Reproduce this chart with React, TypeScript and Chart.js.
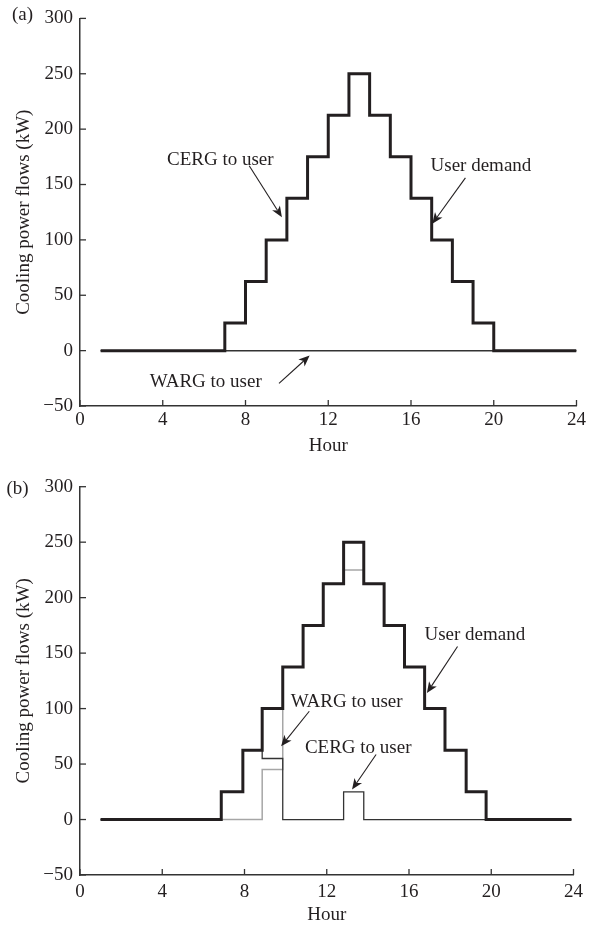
import React, { useEffect, useRef } from "react";
import { Chart, registerables } from "chart.js";

Chart.register(...registerables);

// ---------- data ----------
const hoursA = [1, 2, 3, 4, 5, 6, 7, 8, 9, 10, 11, 12, 13, 14, 15, 16, 17, 18, 19, 20, 21, 22, 23, 24];
const demandA = [0, 0, 0, 0, 0, 0, 25, 62.5, 100, 137.5, 175, 212.5, 250, 212.5, 175, 137.5, 100, 62.5, 25, 0, 0, 0, 0, 0];
const cergA = [0, 0, 0, 0, 0, 0, 25, 62.5, 100, 137.5, 175, 212.5, 250, 212.5, 175, 137.5, 100, 62.5, 25, 0, 0, 0, 0, 0];
const wargA = [0, 0, 0, 0, 0, 0, 0, 0, 0, 0, 0, 0, 0, 0, 0, 0, 0, 0, 0, 0, 0, 0, 0, 0];

const hoursB = [1, 2, 3, 4, 5, 6, 6.87, 7.92, 8.86, 9.86, 10.85, 11.83, 12.82, 13.8, 14.79, 15.78, 16.76, 17.75, 18.78, 19.75, 21, 22, 23, 23.9];
const demandB = [0, 0, 0, 0, 0, 0, 25, 62.5, 100, 137.5, 175, 212.5, 250, 212.5, 175, 137.5, 100, 62.5, 25, 0, 0, 0, 0, 0];
const wargB = [0, 0, 0, 0, 0, 0, 0, 0, 45, 137.5, 175, 212.5, 225, 212.5, 175, 137.5, 100, 62.5, 25, 0, 0, 0, 0, 0];
const cergB = [0, 0, 0, 0, 0, 0, 25, 62.5, 55, 0, 0, 0, 25, 0, 0, 0, 0, 0, 0, 0, 0, 0, 0, 0];

const xMin = 0;
const xMax = 24;
const xStep = 4;
const yMin = -50;
const yMax = 300;
const yStep = 50;

const xTitle = "Hour";
const yTitle = "Cooling power flows (kW)";

// annotations (data coordinates)
const notesA = [
  { text: "CERG to user", x: 6.78, y: 168, from: [8.18, 167], to: [9.76, 120.5] },
  { text: "User demand", x: 19.38, y: 162, from: [18.63, 156], to: [17.03, 114.6] },
  { text: "WARG to user", x: 6.08, y: -32.8, from: [9.62, -29.5], to: [11.1, -4.5] },
];
const notesB = [
  { text: "WARG to user", x: 12.97, y: 101.5, from: [11.15, 97.6], to: [9.78, 66] },
  { text: "CERG to user", x: 13.53, y: 60.1, from: [14.4, 58.6], to: [13.23, 27] },
  { text: "User demand", x: 19.2, y: 162.2, from: [18.36, 156], to: [16.87, 114] },
];

// ---------- styles ----------
const FONT = "'Liberation Serif', 'DejaVu Serif', serif";
const TEXT = "#231f20";
const AXIS = "#333333";
const THICK = "#231f20";
const THIN = "#333333";
const GRAY = "#a6a6a6";

function toPoints(xs: number[], ys: number[]) {
  return xs.map((x, i) => ({ x, y: ys[i] }));
}

function drawArrow(ctx: CanvasRenderingContext2D, x1: number, y1: number, x2: number, y2: number) {
  const ang = Math.atan2(y2 - y1, x2 - x1);
  const headLen = 11;
  const headW = 4.6;
  const bx = x2 - headLen * Math.cos(ang);
  const by = y2 - headLen * Math.sin(ang);
  ctx.beginPath();
  ctx.moveTo(x1, y1);
  ctx.lineTo(bx + 3 * Math.cos(ang), by + 3 * Math.sin(ang));
  ctx.lineWidth = 1.1;
  ctx.stroke();
  ctx.beginPath();
  ctx.moveTo(x2, y2);
  ctx.lineTo(bx - headW * Math.sin(ang), by + headW * Math.cos(ang));
  ctx.lineTo(bx + 3 * Math.cos(ang), by + 3 * Math.sin(ang));
  ctx.lineTo(bx + headW * Math.sin(ang), by - headW * Math.cos(ang));
  ctx.closePath();
  ctx.fill();
}

function makeOverlay(panel: string, px: number, py: number, notes: any[]) {
  return {
    id: "overlay" + panel,
    afterDraw(chart: any) {
      const ctx: CanvasRenderingContext2D = chart.ctx;
      const xs = chart.scales.x;
      const ys = chart.scales.y;
      const ca = chart.chartArea;
      ctx.save();
      ctx.strokeStyle = AXIS;
      ctx.lineWidth = 1.3;
      ys.ticks.forEach((t: any) => {
        const p = ys.getPixelForValue(t.value);
        ctx.beginPath();
        ctx.moveTo(ca.left, p);
        ctx.lineTo(ca.left + 6, p);
        ctx.stroke();
      });
      xs.ticks.forEach((t: any) => {
        const p = xs.getPixelForValue(t.value);
        ctx.beginPath();
        ctx.moveTo(p, ca.bottom);
        ctx.lineTo(p, ca.bottom - 6);
        ctx.stroke();
      });
      ctx.fillStyle = TEXT;
      ctx.strokeStyle = TEXT;
      ctx.font = "19px " + FONT;
      ctx.textAlign = "center";
      ctx.textBaseline = "alphabetic";
      notes.forEach((n) => {
        ctx.fillText(n.text, xs.getPixelForValue(n.x), ys.getPixelForValue(n.y));
        drawArrow(
          ctx,
          xs.getPixelForValue(n.from[0]),
          ys.getPixelForValue(n.from[1]),
          xs.getPixelForValue(n.to[0]),
          ys.getPixelForValue(n.to[1])
        );
      });
      ctx.textAlign = "left";
      ctx.fillText(panel, px, py);
      ctx.restore();
    },
  };
}

function makeConfig(
  hours: number[],
  demand: number[],
  cerg: number[],
  warg: number[],
  cergColor: string,
  wargColor: string,
  padTop: number,
  xHeight: number,
  xLabelPad: number,
  xTitlePadBottom: number,
  overlay: any
): any {
  return {
    type: "line",
    data: {
      datasets: [
        {
          label: "User demand",
          data: toPoints(hours, demand),
          borderColor: THICK,
          borderWidth: 3,
          stepped: "before",
          pointRadius: 0,
          fill: false,
          borderJoinStyle: "miter",
          borderCapStyle: "butt",
        },
        {
          label: "CERG to user",
          data: toPoints(hours, cerg),
          borderColor: cergColor,
          borderWidth: 1.3,
          stepped: "before",
          pointRadius: 0,
          fill: false,
          borderJoinStyle: "miter",
        },
        {
          label: "WARG to user",
          data: toPoints(hours, warg),
          borderColor: wargColor,
          borderWidth: 1.5,
          stepped: "before",
          pointRadius: 0,
          fill: false,
          borderJoinStyle: "miter",
        },
      ],
    },
    options: {
      responsive: false,
      animation: false,
      devicePixelRatio: 1,
      layout: { padding: { top: padTop, right: 10, bottom: 0, left: 0 } },
      plugins: { legend: { display: false }, tooltip: { enabled: false } },
      scales: {
        x: {
          type: "linear",
          min: xMin,
          max: xMax,
          grid: { display: true, drawOnChartArea: false, drawTicks: false },
          border: { display: true, color: AXIS, width: 1.5 },
          ticks: {
            stepSize: xStep,
            color: TEXT,
            font: { family: FONT, size: 19 },
            padding: xLabelPad,
            maxRotation: 0,
          },
          title: {
            display: true,
            text: xTitle,
            color: TEXT,
            font: { family: FONT, size: 19 },
            padding: { top: 0, bottom: xTitlePadBottom },
          },
          afterFit: (s: any) => {
            s.height = xHeight;
          },
        },
        y: {
          type: "linear",
          min: yMin,
          max: yMax,
          grid: { display: true, drawOnChartArea: false, drawTicks: false },
          border: { display: true, color: AXIS, width: 1.5 },
          ticks: {
            stepSize: yStep,
            color: TEXT,
            font: { family: FONT, size: 19 },
            padding: 7,
            callback: (v: any) => (Number(v) < 0 ? "\u2212" + Math.abs(Number(v)) : String(v)),
          },
          title: {
            display: true,
            text: yTitle,
            color: TEXT,
            font: { family: FONT, size: 19 },
            padding: { top: 13, bottom: 0 },
          },
          afterFit: (s: any) => {
            s.width = 80;
          },
        },
      },
    },
    plugins: [overlay],
  };
}

function Panel({ config }: { config: any }) {
  const ref = useRef<HTMLCanvasElement | null>(null);
  useEffect(() => {
    if (!ref.current) return;
    const chart = new Chart(ref.current, config);
    return () => chart.destroy();
  }, [config]);
  return <canvas ref={ref} width={589} height={463} style={{ display: "block", width: 589, height: 463 }} />;
}

const configA = makeConfig(
  hoursA, demandA, cergA, wargA, THIN, THIN, 14, 57, 3, 6,
  makeOverlay("(a)", 12, 20, notesA)
);
const configB = makeConfig(
  hoursB, demandB, cergB, wargB, THIN, GRAY, 23.7, 51, 6, 0,
  makeOverlay("(b)", 6.5, 31, notesB)
);

export default function App() {
  return (
    <div style={{ position: "absolute", left: 0, top: 0, width: 589, height: 926, background: "#fff" }}>
      <Panel config={configA} />
      <Panel config={configB} />
    </div>
  );
}
